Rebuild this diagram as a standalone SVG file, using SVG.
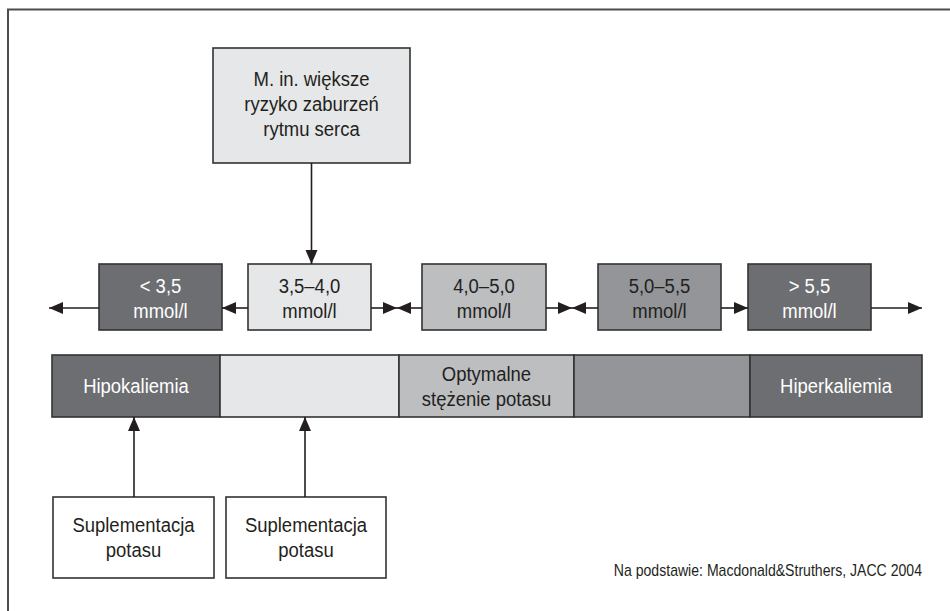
<svg xmlns="http://www.w3.org/2000/svg" width="950" height="611" viewBox="0 0 950 611">
<defs>
<style>
.t{font-family:"Liberation Sans",Arial,sans-serif;font-size:21px;text-anchor:middle;fill:#231f20;transform:scaleX(0.88);transform-box:fill-box;transform-origin:center}
.w{fill:#ffffff}
.b{stroke:#333333;stroke-width:1.6}
.c{stroke:#231f20;stroke-width:1.6;fill:none}
.dark{fill:#6d6e71}
.light{fill:#e6e7e8}
.ml{fill:#bcbec0}
.mid{fill:#939598}
.note{font-family:"Liberation Sans",Arial,sans-serif;font-size:16px;text-anchor:end;fill:#231f20;transform:scaleX(0.88);transform-box:fill-box;transform-origin:right}
</style>
<marker id="ah" markerUnits="userSpaceOnUse" markerWidth="16" markerHeight="14" viewBox="0 0 16 14" refX="15" refY="7" orient="auto">
<path d="M1,1 L15,7 L1,13 z" fill="#231f20"/>
</marker>
</defs>
<rect width="950" height="611" fill="#ffffff"/>
<path d="M8,611 V9.5 H950" fill="none" stroke="#4d4d4f" stroke-width="2"/>

<g id="top">
<rect class="b light" x="213" y="48" width="197" height="115"/>
<text class="t" x="311.5" y="86">M. in. większe</text>
<text class="t" x="311.5" y="111">ryzyko zaburzeń</text>
<text class="t" x="311.5" y="136">rytmu serca</text>
</g>

<g id="r1"><rect class="b dark" x="99" y="264" width="123" height="66"/>
<text class="t w" x="160.5" y="293">&lt; 3,5</text><text class="t w" x="160.5" y="318">mmol/l</text></g>
<g id="r2"><rect class="b light" x="248" y="264" width="123" height="66"/>
<text class="t" x="309.5" y="293">3,5–4,0</text><text class="t" x="309.5" y="318">mmol/l</text></g>
<g id="r3"><rect class="b ml" x="422" y="264" width="124" height="66"/>
<text class="t" x="484" y="293">4,0–5,0</text><text class="t" x="484" y="318">mmol/l</text></g>
<g id="r4"><rect class="b mid" x="598" y="264" width="123" height="66"/>
<text class="t" x="659.5" y="293">5,0–5,5</text><text class="t" x="659.5" y="318">mmol/l</text></g>
<g id="r5"><rect class="b dark" x="748" y="264" width="123" height="66"/>
<text class="t w" x="809.5" y="293">&gt; 5,5</text><text class="t w" x="809.5" y="318">mmol/l</text></g>

<g id="bar">
<rect class="b dark" x="52" y="355" width="168" height="62"/>
<rect class="b light" x="220" y="355" width="179" height="62"/>
<rect class="b ml" x="399" y="355" width="175" height="62"/>
<rect class="b mid" x="574" y="355" width="176" height="62"/>
<rect class="b dark" x="750" y="355" width="172" height="62"/>
<text class="t w" x="136" y="393">Hipokaliemia</text>
<text class="t" x="486.5" y="381">Optymalne</text>
<text class="t" x="486.5" y="406">stężenie potasu</text>
<text class="t w" x="836" y="393">Hiperkaliemia</text>
</g>

<g id="s1"><rect class="b" fill="#ffffff" x="53" y="497" width="161" height="81"/>
<text class="t" x="133.5" y="532">Suplementacja</text><text class="t" x="133.5" y="557">potasu</text></g>
<g id="s2"><rect class="b" fill="#ffffff" x="226" y="497" width="160" height="81"/>
<text class="t" x="306" y="532">Suplementacja</text><text class="t" x="306" y="557">potasu</text></g>

<g id="connectors">
<line class="c" x1="311.5" y1="163" x2="311.5" y2="264" marker-end="url(#ah)"/>
<line class="c" x1="99" y1="308" x2="49" y2="308" marker-end="url(#ah)"/>
<line class="c" x1="248" y1="308" x2="222" y2="308" marker-end="url(#ah)"/>
<line class="c" x1="371" y1="308" x2="397" y2="308" marker-end="url(#ah)"/>
<line class="c" x1="422" y1="308" x2="397" y2="308" marker-end="url(#ah)"/>
<line class="c" x1="546" y1="308" x2="572" y2="308" marker-end="url(#ah)"/>
<line class="c" x1="598" y1="308" x2="572" y2="308" marker-end="url(#ah)"/>
<line class="c" x1="721" y1="308" x2="748" y2="308" marker-end="url(#ah)"/>
<line class="c" x1="871" y1="308" x2="922" y2="308" marker-end="url(#ah)"/>
<line class="c" x1="134" y1="497" x2="134" y2="417" marker-end="url(#ah)"/>
<line class="c" x1="305" y1="497" x2="305" y2="417" marker-end="url(#ah)"/>
</g>

<text class="note" x="922" y="576">Na podstawie: Macdonald&amp;Struthers, JACC 2004</text>
</svg>
